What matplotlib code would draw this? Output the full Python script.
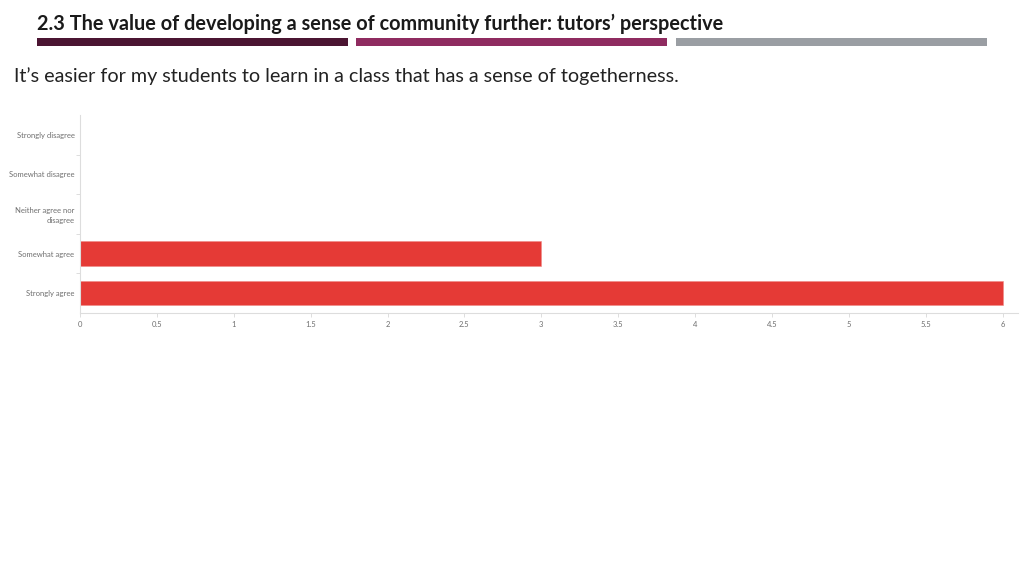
import matplotlib.pyplot as plt
from matplotlib.patches import Rectangle
import numpy as np

# survey answers (tutors)
categories = ["Strongly disagree", "Somewhat disagree", "Neither agree nor\ndisagree",
              "Somewhat agree", "Strongly agree"]
counts = [0, 0, 0, 3, 6]
xticks = [0, 0.5, 1, 1.5, 2, 2.5, 3, 3.5, 4, 4.5, 5, 5.5, 6]
xticklabels = ["0", "0.5", "1", "1.5", "2", "2.5", "3", "3.5", "4", "4.5", "5", "5.5", "6"]

title = "2.3 The value of developing a sense of community further: tutors\u2019 perspective"
question = "It\u2019s easier for my students to learn in a class that has a sense of togetherness."

fig = plt.figure(figsize=(10.24, 5.76), dpi=100)

# heading and coloured strips
fig.text(37/1024, 1 - 24/576, title, fontsize=14.3, fontweight="bold",
         family=["Lato", "DejaVu Sans"], va="center", ha="left",
         color="#1a1a1a")
strips = [(37, 348, "#4b1532"), (356, 667, "#8f2b60"), (676, 987, "#9a9ea3")]
for x0, x1, c in strips:
    fig.patches.append(Rectangle((x0/1024, 1 - 46/576), (x1 - x0)/1024, 8/576,
                                 transform=fig.transFigure, color=c, lw=0))

fig.text(14/1024, 1 - 76/576, question, fontsize=14.2, family=["Lato", "DejaVu Sans"],
         va="center", ha="left", color="#222222")

ax = fig.add_axes([80/1024, 1 - 313/576, (1018 - 80)/1024, (313 - 115)/576])
y = np.arange(len(categories))
ax.barh(y, counts, height=0.62, color="#e53a36", edgecolor="#f08a86", linewidth=0.4)
ax.set_xlim(0, 6.1)
ax.set_ylim(len(categories) - 0.5, -0.5)

ax.set_yticks(y)
ax.set_yticklabels(categories, fontsize=5.5, color="#6f6f6f", linespacing=1.35,
                   family=["Lato", "DejaVu Sans"])
ax.set_yticks(np.arange(0.5, len(categories) - 0.5, 1), minor=True)
ax.tick_params(axis="y", which="major", length=0, pad=4)
ax.tick_params(axis="y", which="minor", length=3, color="#dddddd", width=0.7)

ax.set_xticks(xticks)
ax.set_xticklabels(xticklabels, fontsize=5.5, color="#6f6f6f", family=["Lato", "DejaVu Sans"])
ax.tick_params(axis="x", length=3, color="#dddddd", width=0.7, pad=3)

for s in ["top", "right"]:
    ax.spines[s].set_visible(False)
for s in ["left", "bottom"]:
    ax.spines[s].set_color("#dddddd")
    ax.spines[s].set_linewidth(0.8)

fig.savefig("out.png", dpi=100)
